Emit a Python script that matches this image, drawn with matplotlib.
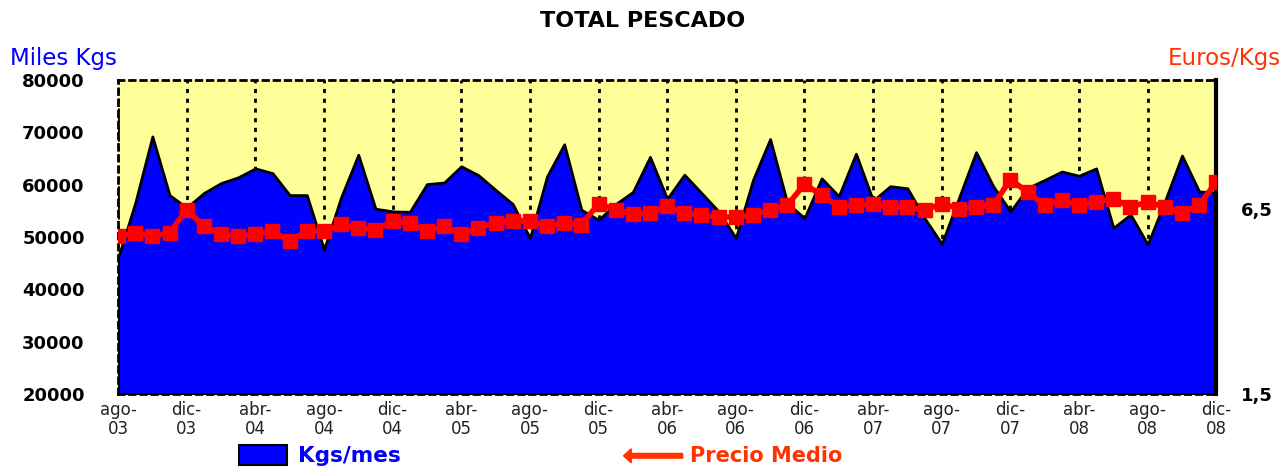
import numpy as np
import matplotlib
matplotlib.use("Agg")
import matplotlib.pyplot as plt
from matplotlib.patches import Rectangle, FancyArrow

# monthly data ago-03 .. dic-08
kgs = [46000, 56500, 69200, 58000, 55600, 58400, 60300, 61400, 63100, 62200,
       58000, 58000, 47600, 57600, 65700, 55400, 54900, 54800, 60100, 60400,
       63500, 61800, 59000, 56300, 49800, 61600, 67700, 55200, 53300, 56300,
       58600, 65300, 57300, 61900, 58400, 54900, 49800, 60900, 68700, 56500,
       53600, 61200, 57800, 65900, 56950, 59700, 59300, 53600, 48700, 57450,
       66200, 59700, 54900, 59350, 60900, 62500, 61700, 63100, 51750, 54300,
       48600, 56800, 65550, 58700, 58500]

precio = [5.77, 5.86, 5.77, 5.86, 6.49, 6.04, 5.82, 5.77, 5.82, 5.91,
          5.64, 5.91, 5.91, 6.09, 6.00, 5.95, 6.18, 6.13, 5.91, 6.04,
          5.82, 6.00, 6.13, 6.18, 6.18, 6.04, 6.13, 6.08, 6.65, 6.49,
          6.36, 6.40, 6.58, 6.40, 6.34, 6.29, 6.29, 6.34, 6.49, 6.61,
          7.18, 6.88, 6.57, 6.61, 6.65, 6.56, 6.56, 6.47, 6.65, 6.52,
          6.56, 6.61, 7.30, 6.97, 6.61, 6.74, 6.61, 6.70, 6.79, 6.56,
          6.70, 6.56, 6.40, 6.61, 7.24]

tick_labels = ["ago-\n03", "dic-\n03", "abr-\n04", "ago-\n04", "dic-\n04",
               "abr-\n05", "ago-\n05", "dic-\n05", "abr-\n06", "ago-\n06",
               "dic-\n06", "abr-\n07", "ago-\n07", "dic-\n07", "abr-\n08",
               "ago-\n08", "dic-\n08"]

left_ticks = [20000, 30000, 40000, 50000, 60000, 70000, 80000]
right_ticks = [1.5, 6.5]
right_labels = ["1,5", "6,5"]

x = np.arange(len(kgs))
tick_pos = np.arange(0, len(kgs), 4)

fig = plt.figure(figsize=(12.83, 4.67), dpi=100)
ax = fig.add_axes([0.092, 0.156, 0.856, 0.673])
ax.set_facecolor("#FFFF99")

ax.fill_between(x, 20000, kgs, facecolor="#0000FF", edgecolor="black",
                linewidth=2, zorder=2)
ax.set_xlim(0, len(kgs) - 1)
ax.set_ylim(20000, 80000)
ax.set_yticks(left_ticks)
ax.set_yticklabels([str(v) for v in left_ticks], fontweight="bold", fontsize=13)
ax.set_xticks(tick_pos)
ax.set_xticklabels(tick_labels, fontsize=12, color="#222222", linespacing=1.05)
ax.tick_params(axis="both", length=0)
ax.tick_params(axis="y", pad=24)
ax.tick_params(axis="x", pad=5)

# dotted vertical grid
ax.set_axisbelow(True)
ax.grid(axis="x", color="black", linestyle=(0, (1.5, 2)), linewidth=2, zorder=0.5)

for side in ["top", "bottom", "left"]:
    ax.spines[side].set_linestyle((0, (2, 2)))
    ax.spines[side].set_linewidth(2)
ax.spines["right"].set_linewidth(3)

ax2 = ax.twinx()
ax2.plot(x, precio, color="#FF0000", linewidth=4, marker="s", markersize=10,
         zorder=3)
ax2.set_ylim(1.5, 10.0)
ax2.set_yticks(right_ticks)
ax2.set_yticklabels(right_labels, fontweight="bold", fontsize=13)
ax2.tick_params(axis="y", length=0, pad=18)
for s in ax2.spines.values():
    s.set_visible(False)

fig.text(0.501, 0.955, "TOTAL PESCADO", ha="center", va="center",
         fontsize=16, fontweight="bold")
fig.text(0.008, 0.875, "Miles Kgs", color="#0000FF", fontsize=16.5,
         ha="left", va="center")
fig.text(0.998, 0.875, "Euros/Kgs", color="#FF3300", fontsize=16.5,
         ha="right", va="center")

# legend
fig.patches.append(Rectangle((0.186, 0.005), 0.038, 0.042, transform=fig.transFigure,
                             facecolor="#0000FF", edgecolor="black", linewidth=1.5))
fig.text(0.232, 0.024, "Kgs/mes", color="#0000FF", fontsize=15.5,
         fontweight="bold", ha="left", va="center")
fig.patches.append(FancyArrow(0.532, 0.024, -0.046, 0, width=0.01,
                              head_width=0.03, head_length=0.006,
                              length_includes_head=True, transform=fig.transFigure,
                              color="#FF3300"))
fig.text(0.538, 0.024, "Precio Medio", color="#FF3300", fontsize=15,
         fontweight="bold", ha="left", va="center")

fig.savefig("out.png", dpi=100)
